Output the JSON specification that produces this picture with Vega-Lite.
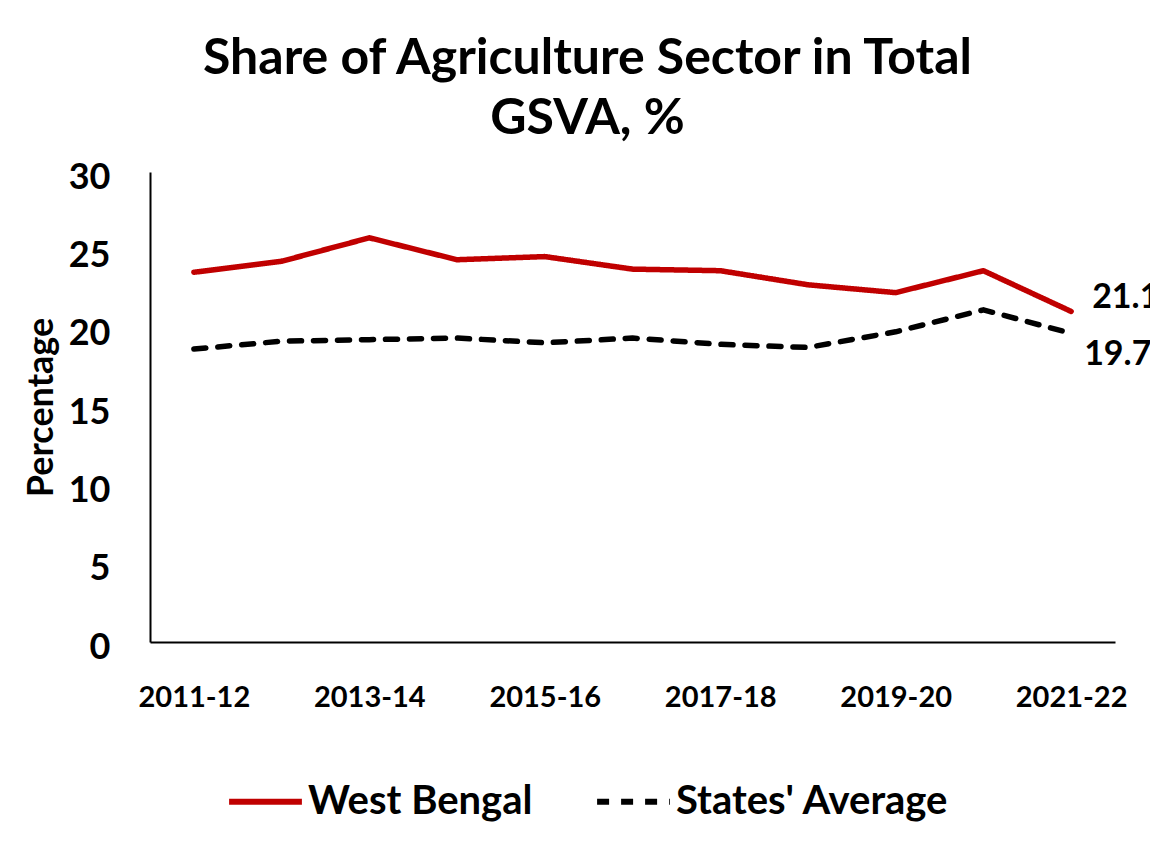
{
  "$schema": "https://vega.github.io/schema/vega-lite/v6.json",
  "width": 965,
  "height": 470,
  "autosize": {"type": "none"},
  "padding": {"left": 150, "top": 172, "right": 35, "bottom": 205},
  "background": "white",
  "title": {
    "text": ["Share of Agriculture Sector in Total", "GSVA, %"],
    "font": "Lato",
    "fontSize": 50,
    "fontWeight": "bold",
    "color": "#000000",
    "lineHeight": 60,
    "anchor": "middle",
    "dx": -45,
    "offset": 15
  },
  "data": {
    "values": [
      {"year": "2011-12", "series": "West Bengal", "value": 23.6},
      {"year": "2012-13", "series": "West Bengal", "value": 24.3},
      {"year": "2013-14", "series": "West Bengal", "value": 25.8},
      {"year": "2014-15", "series": "West Bengal", "value": 24.4},
      {"year": "2015-16", "series": "West Bengal", "value": 24.6},
      {"year": "2016-17", "series": "West Bengal", "value": 23.8},
      {"year": "2017-18", "series": "West Bengal", "value": 23.7},
      {"year": "2018-19", "series": "West Bengal", "value": 22.8},
      {"year": "2019-20", "series": "West Bengal", "value": 22.3},
      {"year": "2020-21", "series": "West Bengal", "value": 23.7},
      {"year": "2021-22", "series": "West Bengal", "value": 21.1},
      {"year": "2011-12", "series": "States' Average", "value": 18.7},
      {"year": "2012-13", "series": "States' Average", "value": 19.2},
      {"year": "2013-14", "series": "States' Average", "value": 19.3},
      {"year": "2014-15", "series": "States' Average", "value": 19.4},
      {"year": "2015-16", "series": "States' Average", "value": 19.1},
      {"year": "2016-17", "series": "States' Average", "value": 19.4},
      {"year": "2017-18", "series": "States' Average", "value": 19.0},
      {"year": "2018-19", "series": "States' Average", "value": 18.8},
      {"year": "2019-20", "series": "States' Average", "value": 19.8},
      {"year": "2020-21", "series": "States' Average", "value": 21.2},
      {"year": "2021-22", "series": "States' Average", "value": 19.7}
    ]
  },
  "encoding": {
    "x": {
      "field": "year",
      "type": "nominal",
      "sort": null,
      "scale": {"paddingInner": 0, "paddingOuter": 0},
      "axis": {
        "title": null,
        "labelAngle": 0,
        "values": ["2011-12", "2013-14", "2015-16", "2017-18", "2019-20", "2021-22"],
        "ticks": false,
        "domainColor": "#000000",
        "domainWidth": 2,
        "labelFont": "Lato",
        "labelFontSize": 29,
        "labelFontWeight": "bold",
        "labelColor": "#000000",
        "labelPadding": 41,
        "grid": false
      }
    },
    "y": {
      "field": "value",
      "type": "quantitative",
      "scale": {"domain": [0, 30]},
      "axis": {
        "title": "Percentage",
        "titleFont": "Lato",
        "titleFontSize": 36,
        "titleFontWeight": "bold",
        "titleColor": "#000000",
        "titlePadding": 8,
        "values": [0, 5, 10, 15, 20, 25, 30],
        "ticks": false,
        "grid": false,
        "domainColor": "#000000",
        "domainWidth": 2,
        "labelFont": "Lato",
        "labelFontSize": 36,
        "labelFontWeight": "bold",
        "labelColor": "#000000",
        "labelPadding": 40,
        "labelOffset": 5
      }
    }
  },
  "layer": [
    {
      "mark": {"type": "line", "strokeWidth": 5.5, "strokeCap": "round", "strokeJoin": "round"},
      "encoding": {
        "color": {
          "field": "series",
          "type": "nominal",
          "scale": {"domain": ["West Bengal", "States' Average"], "range": ["#C00000", "#000000"]},
          "legend": {
            "title": null,
            "orient": "none",
            "direction": "horizontal",
            "legendX": 76,
            "legendY": 590,
            "symbolType": "stroke",
            "symbolSize": 5300,
            "symbolStrokeWidth": 6,
            "labelFont": "Lato",
            "labelFontSize": 40,
            "labelFontWeight": "bold",
            "labelColor": "#000000",
            "labelOffset": 3,
            "columnPadding": 52,
            "labelLimit": 400
          }
        },
        "strokeDash": {
          "field": "series",
          "type": "nominal",
          "scale": {"domain": ["West Bengal", "States' Average"], "range": [[1, 0], [12, 12]]},
          "legend": null
        }
      }
    },
    {
      "transform": [{"filter": "datum.year === '2021-22' && datum.series === 'West Bengal'"}],
      "mark": {"type": "text", "align": "left", "baseline": "middle", "dx": 21, "dy": -13, "font": "Lato", "fontSize": 34, "fontWeight": "bold", "color": "#000000"},
      "encoding": {"text": {"field": "value", "type": "quantitative", "format": ".1f"}}
    },
    {
      "transform": [{"filter": "datum.year === '2021-22' && datum.series === \"States' Average\""}],
      "mark": {"type": "text", "align": "left", "baseline": "middle", "dx": 13, "dy": 22, "font": "Lato", "fontSize": 34, "fontWeight": "bold", "color": "#000000"},
      "encoding": {"text": {"field": "value", "type": "quantitative", "format": ".1f"}}
    }
  ],
  "config": {
    "view": {"stroke": null}
  }
}
